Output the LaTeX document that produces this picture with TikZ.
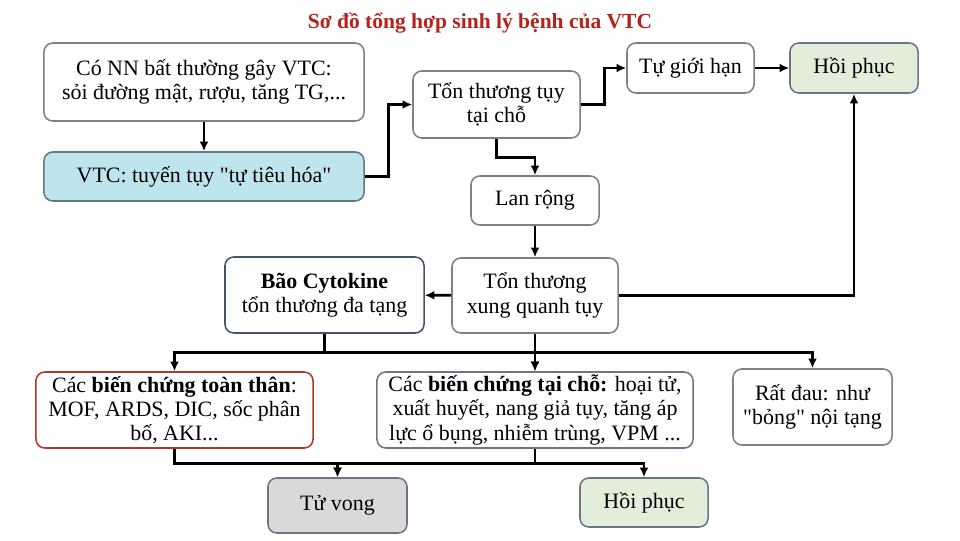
\documentclass[tikz,border=0pt]{standalone}
\usepackage{fontspec}
\setmainfont{Liberation Serif}
\usetikzlibrary{arrows.meta}
\definecolor{do tieu de}{RGB}{181,34,26}
\definecolor{xanh vtc}{RGB}{190,229,238}
\definecolor{xanh hoi phuc}{RGB}{227,238,218}
\definecolor{xam tu vong}{RGB}{217,217,217}
\definecolor{vien xam}{RGB}{128,128,128}
\definecolor{vien dam}{RGB}{68,84,106}
\definecolor{vien do}{RGB}{180,56,40}
\begin{document}
\begin{tikzpicture}[x=0.025cm, y=-0.025cm, font=\fontsize{15.6}{17.2}\selectfont,
    hop/.style={draw=vien xam, line width=1.1pt, rounded corners=0.22cm, fill=white, align=center, inner sep=0pt},
    muiten/.style={line width=2pt, -{Latex[length=2.4mm, width=2.2mm]}}]
        \useasboundingbox (0,0) rectangle (960,540);
        \node[font=\fontsize{15.3}{17}\selectfont\bfseries, text=do tieu de] (tieude) at (480,23) {Sơ đồ tổng hợp sinh lý bệnh của VTC};
        \node[hop, minimum width=8cm, minimum height=1.95cm] (nguyennhan) at (204,82) {Có NN bất thường gây VTC:\\ sỏi đường mật, rượu, tăng TG,...};
        \node[hop, draw=vien dam!80, fill=xanh vtc, minimum width=8cm, minimum height=1.225cm] (vtc) at (204,176.5) {VTC: tuyến tụy \textquotedbl tự tiêu hóa\textquotedbl};
        \node[hop, minimum width=4.175cm, minimum height=1.675cm] (taicho) at (496.5,104.5) {Tổn thương tụy\\ tại chỗ};
        \node[hop, minimum width=3.175cm, minimum height=1.25cm] (gioihan) at (690.5,68) {Tự giới hạn};
        \node[hop, fill=xanh hoi phuc, draw=vien dam!80, minimum width=3.2cm, minimum height=1.25cm] (hoiphuca) at (854,68) {Hồi phục};
        \node[hop, minimum width=3.2cm, minimum height=1.225cm] (lanrong) at (535,200.5) {Lan rộng};
        \node[hop, minimum width=4.15cm, minimum height=1.875cm] (xungquanh) at (535,295.5) {Tổn thương\\ xung quanh tụy};
        \node[hop, draw=vien dam, minimum width=4.975cm, minimum height=1.9cm] (cytokine) at (324.5,295) {\textbf{Bão Cytokine}\\ tổn thương đa tạng};
        \node[hop, draw=vien do, minimum width=6.925cm, minimum height=1.9cm] (toanthan) at (174.5,410) {Các \textbf{biến chứng toàn thân}:\\ MOF, ARDS, DIC, sốc phân\\ bố, AKI...};
        \node[hop, draw=vien dam!80, minimum width=7.9cm, minimum height=1.9cm] (bcTaicho) at (535,410) {Các \textbf{biến chứng tại chỗ:} hoại tử,\\ xuất huyết, nang giả tụy, tăng áp\\ lực ổ bụng, nhiễm trùng, VPM ...};
        \node[hop, minimum width=3.975cm, minimum height=1.9cm] (ratdau) at (812.5,407) {Rất đau: như\\ \textquotedbl bỏng\textquotedbl{} nội tạng};
        \node[hop, draw=vien dam!80, fill=xam tu vong, minimum width=3.475cm, minimum height=1.375cm] (tuvong) at (337.5,505.5) {Tử vong};
        \node[hop, draw=vien dam!80, fill=xanh hoi phuc, minimum width=3.2cm, minimum height=1.225cm] (hoiphucb) at (644,502.5) {Hồi phục};
        \draw[muiten] (nguyennhan) -- (vtc);
        \draw[muiten] (vtc.east) -- ++(24,0) |- (taicho.west);
        \draw[muiten] (taicho.east) -- ++(24,0) |- (gioihan.west);
        \draw[muiten] (gioihan) -- (hoiphuca);
        \draw[muiten] (taicho.south) -- ++(0,19) -| (lanrong.north);
        \draw[muiten] (lanrong) -- (xungquanh);
        \draw[muiten] (xungquanh.east) -| (hoiphuca.south);
        \draw[muiten] (xungquanh) -- (cytokine);
        \draw[muiten] (cytokine.south) -- ++(0,19) -| (toanthan.north);
        \draw[muiten] (cytokine.south) -- ++(0,19) -| (bcTaicho.north);
        \draw[muiten] (xungquanh) -- (bcTaicho);
        \draw[muiten] (xungquanh.south) -- ++(0,19) -| (ratdau.north);
        \draw[muiten] (toanthan.south) -- ++(0,15) -| (tuvong.north);
        \draw[muiten] (bcTaicho.south) -- ++(0,15) -| (tuvong.north);
        \draw[muiten] (bcTaicho.south) -- ++(0,15) -| (hoiphucb.north);
\end{tikzpicture}
\end{document}
